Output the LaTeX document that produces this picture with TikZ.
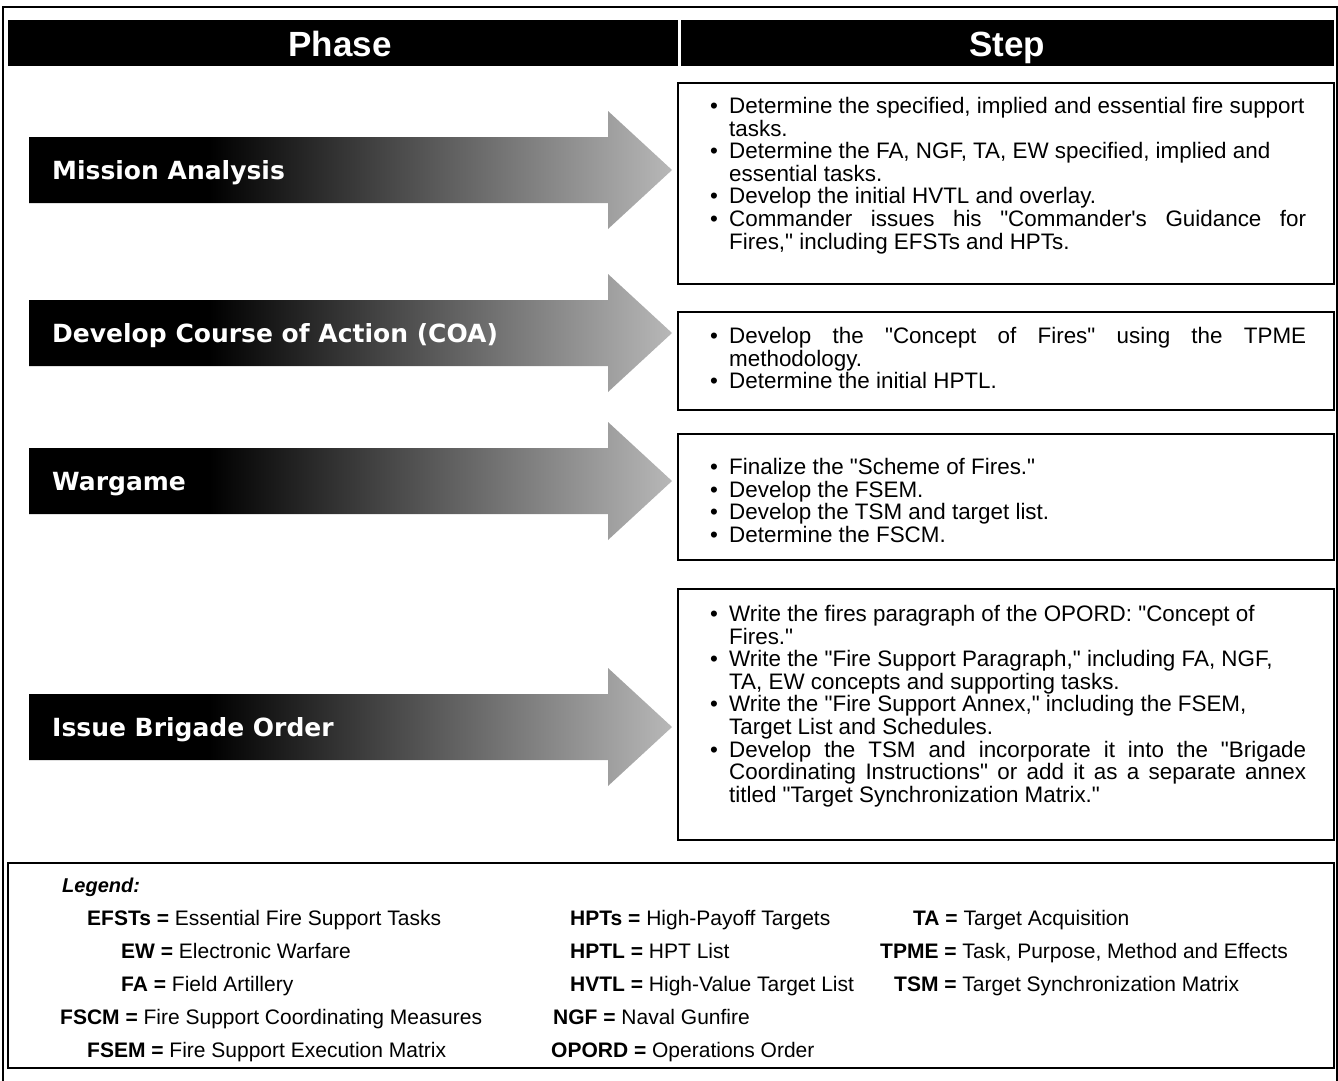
\documentclass[tikz,border=0pt]{standalone}
\usepackage{fontspec}
\newfontfamily\arial{Liberation Sans}
\newfontfamily\verd{DejaVu Sans}
\definecolor{ashade}{gray}{0.72}
\pgfdeclarehorizontalshading{arrshade}{100bp}{color(0bp)=(black); color(25bp)=(black); color(39bp)=(black); color(75bp)=(ashade); color(100bp)=(ashade)}
\newcommand{\bul}{\makebox[19pt][l]{•}}
\newcommand{\ind}{\hspace*{19pt}}
\newcommand{\jl}[1]{\makebox[577pt][s]{#1}}
\begin{document}
\begin{tikzpicture}[x=1pt,y=-1pt,
  hdr/.style={font=\arial\bfseries\fontsize{35}{37}\selectfont, text=white, inner sep=0pt, anchor=base},
  phasetxt/.style={font=\verd\bfseries\fontsize{25}{27}\selectfont, text=white, inner sep=0pt, anchor=base west},
  steptxt/.style={font=\arial\fontsize{22.4}{22.6}\selectfont, align=left, inner sep=0pt, anchor=north west},
  stepbox/.style={draw=black, line width=2.6pt},
  legab/.style={font=\arial\fontsize{21}{23}\selectfont, inner sep=0pt, anchor=base west},
  frame/.style={draw=black, line width=2pt}]
\useasboundingbox (0,0) rectangle (1338,1080);
% outer frame
\draw[frame] (3,1081) -- (3,7) -- (1337,7) -- (1337,1081);
% header
\fill[black] (8,20) rectangle (678,66);
\fill[black] (681,20) rectangle (1334,66);
\node[hdr] (hphase) at (340,56) {Phase};
\node[hdr] (hstep) at (1007,56) {Step};
% arrows
\foreach \c/\nm in {170/a1,333/a2,481/a3,727/a4}{
  \shade[shading=arrshade] (29,\c-33) -- (608,\c-33) -- (608,\c-59) -- (672,\c) -- (608,\c+59) -- (608,\c+33) -- (29,\c+33) -- cycle;
}
\node[phasetxt] (p1) at (52,179) {Mission Analysis};
\node[phasetxt] (p2) at (52,342) {Develop Course of Action (COA)};
\node[phasetxt] (p3) at (52,490) {Wargame};
\node[phasetxt] (p4) at (52,736) {Issue Brigade Order};
% step boxes
\draw[stepbox] (678,83) rectangle (1334,284);
\draw[stepbox] (678,312) rectangle (1334,410);
\draw[stepbox] (678,434) rectangle (1334,560);
\draw[stepbox] (678,589) rectangle (1334,840);
\node[steptxt] (s1) at (710,97) {%
\bul Determine the specified, implied and essential fire support\\
\ind tasks.\\
\bul Determine the FA, NGF, TA, EW specified, implied and\\
\ind essential tasks.\\
\bul Develop the initial HVTL and overlay.\\
\bul\jl{Commander issues his "Commander's Guidance for}\\
\ind Fires," including EFSTs and HPTs.};
\node[steptxt] (s2) at (710,327) {%
\bul\jl{Develop the "Concept of Fires" using the TPME}\\
\ind methodology.\\
\bul Determine the initial HPTL.};
\node[steptxt] (s3) at (710,458) {%
\bul Finalize the "Scheme of Fires."\\
\bul Develop the FSEM.\\
\bul Develop the TSM and target list.\\
\bul Determine the FSCM.};
\node[steptxt] (s4) at (710,605) {%
\bul Write the fires paragraph of the OPORD: "Concept of\\
\ind Fires."\\
\bul Write the "Fire Support Paragraph," including FA, NGF,\\
\ind TA, EW concepts and supporting tasks.\\
\bul Write the "Fire Support Annex," including the FSEM,\\
\ind Target List and Schedules.\\
\bul\jl{Develop the TSM and incorporate it into the "Brigade}\\
\ind\jl{Coordinating Instructions" or add it as a separate annex}\\
\ind titled "Target Synchronization Matrix."};
% legend
\draw[stepbox] (8,863) rectangle (1334,1068);
\node[legab, font=\arial\bfseries\itshape\fontsize{20}{22}\selectfont] (lg) at (62,892) {Legend:};
\node[legab] (l1) at (87,925) {\textbf{EFSTs =} Essential Fire Support Tasks};
\node[legab] (l2) at (121,958) {\textbf{EW =} Electronic Warfare};
\node[legab] (l3) at (121,991) {\textbf{FA =} Field Artillery};
\node[legab] (l4) at (60,1024) {\textbf{FSCM =} Fire Support Coordinating Measures};
\node[legab] (l5) at (87,1057) {\textbf{FSEM =} Fire Support Execution Matrix};
\node[legab] (l6) at (570,925) {\textbf{HPTs =} High-Payoff Targets};
\node[legab] (l7) at (570,958) {\textbf{HPTL =} HPT List};
\node[legab] (l8) at (570,991) {\textbf{HVTL =} High-Value Target List};
\node[legab] (l9) at (553,1024) {\textbf{NGF =} Naval Gunfire};
\node[legab] (l10) at (551,1057) {\textbf{OPORD =} Operations Order};
\node[legab] (l11) at (913,925) {\textbf{TA =} Target Acquisition};
\node[legab] (l12) at (880,958) {\textbf{TPME =} Task, Purpose, Method and Effects};
\node[legab] (l13) at (894,991) {\textbf{TSM =} Target Synchronization Matrix};
\end{tikzpicture}
\end{document}
